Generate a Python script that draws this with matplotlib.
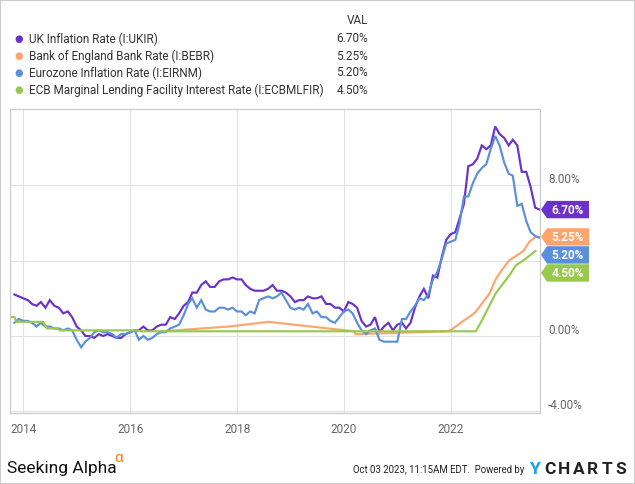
import matplotlib
matplotlib.use("Agg")
import matplotlib.pyplot as plt
from matplotlib.patches import Polygon, Rectangle
from matplotlib.transforms import Affine2D
import numpy as np
import pandas as pd

plt.rcParams['font.family'] = ['Roboto', 'DejaVu Sans']

# monthly series, Oct 2013 .. Aug 2023 (month end)
uk_cpi = [2.2, 2.1, 2.0,
          1.9, 1.7, 1.6, 1.8, 1.5, 1.9, 1.6, 1.5, 1.2, 1.3, 1.0, 0.5,
          0.3, 0.0, 0.0, -0.1, 0.1, 0.0, 0.1, 0.0, -0.1, -0.1, 0.1, 0.2,
          0.3, 0.3, 0.5, 0.3, 0.3, 0.5, 0.6, 0.6, 1.0, 0.9, 1.2, 1.6,
          1.8, 2.3, 2.3, 2.7, 2.9, 2.6, 2.6, 2.9, 3.0, 3.0, 3.1, 3.0,
          3.0, 2.7, 2.5, 2.4, 2.4, 2.4, 2.5, 2.7, 2.4, 2.4, 2.3, 2.1,
          1.8, 1.9, 1.9, 2.1, 2.0, 2.0, 2.1, 1.7, 1.7, 1.5, 1.5, 1.3,
          1.8, 1.7, 1.5, 0.8, 0.5, 0.6, 1.0, 0.2, 0.5, 0.7, 0.3, 0.6,
          0.7, 0.4, 0.7, 1.5, 2.1, 2.5, 2.0, 3.2, 3.1, 4.2, 5.1, 5.4,
          5.5, 6.2, 7.0, 9.0, 9.1, 9.4, 10.1, 9.9, 10.1, 11.1, 10.7, 10.5,
          10.1, 10.4, 10.1, 8.7, 8.7, 7.9, 6.8, 6.7]
ez_cpi = [0.7, 0.9, 0.8,
          0.8, 0.7, 0.5, 0.7, 0.5, 0.5, 0.4, 0.4, 0.3, 0.4, 0.3, -0.2,
          -0.6, -0.3, -0.1, 0.2, 0.3, 0.2, 0.2, 0.1, -0.1, 0.1, 0.1, 0.2,
          0.3, -0.2, 0.0, -0.2, -0.1, 0.1, 0.2, 0.2, 0.4, 0.5, 0.6, 1.1,
          1.7, 2.0, 1.5, 1.9, 1.4, 1.3, 1.3, 1.5, 1.5, 1.4, 1.5, 1.3,
          1.3, 1.1, 1.3, 1.2, 1.9, 2.0, 2.1, 2.0, 2.1, 2.3, 1.9, 1.5,
          1.4, 1.5, 1.4, 1.7, 1.2, 1.3, 1.0, 1.0, 0.8, 0.7, 1.0, 1.3,
          1.4, 1.2, 0.7, 0.3, 0.1, 0.3, 0.4, -0.2, -0.3, -0.3, -0.3, -0.3,
          0.9, 0.9, 1.3, 1.6, 2.0, 1.9, 2.2, 3.0, 3.4, 4.1, 4.9, 5.0,
          5.1, 5.9, 7.4, 7.4, 8.1, 8.6, 8.9, 9.1, 9.9, 10.6, 10.1, 9.2,
          8.6, 8.5, 6.9, 7.0, 6.1, 5.5, 5.3, 5.2]
monthly_dates = pd.date_range("2013-10-31", periods=len(uk_cpi), freq="ME")

# policy rates, points at change dates
boe_dates = ["2016-08-04", "2017-11-02", "2018-08-02", "2020-03-11", "2020-03-19",
             "2021-12-16", "2022-02-03", "2022-03-17", "2022-05-05", "2022-06-16",
             "2022-08-04", "2022-09-22", "2022-11-03", "2022-12-15", "2023-02-02",
             "2023-03-23", "2023-05-11", "2023-06-22", "2023-08-03", "2023-08-31"]
boe_rate = [0.25, 0.50, 0.75, 0.25, 0.10,
            0.25, 0.50, 0.75, 1.00, 1.25,
            1.75, 2.25, 3.00, 3.50, 4.00,
            4.25, 4.50, 5.00, 5.25, 5.25]
ecb_dates = ["2013-10-01", "2013-10-31", "2013-11-13", "2014-05-15", "2014-06-11",
             "2014-08-15", "2014-09-10", "2016-02-15", "2016-03-16", "2022-06-20",
             "2022-07-27", "2022-09-14", "2022-11-02", "2022-12-21", "2023-02-08",
             "2023-03-22", "2023-05-10", "2023-06-21", "2023-08-02"]
ecb_rate = [1.00, 1.00, 0.75, 0.75, 0.40,
            0.40, 0.30, 0.30, 0.25, 0.25,
            0.75, 1.50, 2.25, 2.75, 3.25,
            3.75, 4.00, 4.25, 4.50]

names = ["UK Inflation Rate (I:UKIR)", "Bank of England Bank Rate (I:BEBR)",
         "Eurozone Inflation Rate (I:EIRNM)", "ECB Marginal Lending Facility Interest Rate (I:ECBMLFIR)"]
last_vals = [6.70, 5.25, 5.20, 4.50]
colors = ["#6a32c9", "#ffa46c", "#5a8fdc", "#96c94e"]
y_grid = [-4, 0, 4, 8]
y_labels = [-4, 0, 8]   # the 4% label sits under the value tags
x_years = [2014, 2016, 2018, 2020, 2022]

W, H = 635, 484
fig = plt.figure(figsize=(W / 100, H / 100), dpi=100)
# pixel coords with origin at top-left
px = Affine2D().scale(1 / W, -1 / H).translate(0, 1) + fig.transFigure

ax_l, ax_r, ax_t, ax_b = 10, 540, 109, 413
ax = fig.add_axes([ax_l / W, 1 - ax_b / H, (ax_r - ax_l) / W, (ax_b - ax_t) / H])

series = [(monthly_dates, uk_cpi), (pd.to_datetime(boe_dates), boe_rate),
          (monthly_dates, ez_cpi), (pd.to_datetime(ecb_dates), ecb_rate)]
for (d, v), c in zip(series, colors):
    ax.plot(d, v, color=c, lw=1.55, solid_joinstyle='miter')

ax.set_xlim(pd.Timestamp("2013-10-01"), pd.Timestamp("2023-09-02"))
ax.set_ylim(-4.08, 12.03)
ax.set_xticks([pd.Timestamp(f"{y}-01-01") for y in x_years])
ax.set_xticklabels([str(y) for y in x_years])
ax.set_yticks(y_grid)
ax.set_yticklabels([])
ax.tick_params(length=0, colors="#666666", labelsize=8.5, pad=7)
ax.grid(True, color="#e2e2e2", lw=0.8)
ax.set_axisbelow(True)
for s in ax.spines.values():
    s.set_color("#cccccc")
    s.set_linewidth(0.9)

def data_to_px_y(v):
    return H - ax.transData.transform((0, v))[1]

for t in y_labels:
    fig.text(548, data_to_px_y(t) - 6, f"{t:.2f}%", transform=px, ha='left', va='center',
             fontsize=8.5, color="#666666")

# end-value tags, pushed down so they don't overlap
tag_h = 17.4
prev = None
order = np.argsort(last_vals)[::-1]
for i in order:
    yc = data_to_px_y(last_vals[i])
    if prev is not None and yc < prev + tag_h + 0.6:
        yc = prev + tag_h + 0.6
    prev = yc
    h2 = tag_h / 2
    poly = Polygon([(541, yc), (547, yc - h2), (589, yc - h2), (589, yc + h2), (547, yc + h2)],
                   closed=True, transform=px, facecolor=colors[i], edgecolor='none', zorder=5)
    fig.add_artist(poly)
    fig.text(568, yc + 0.5, f"{last_vals[i]:.2f}%", transform=px, ha='center', va='center',
             color='white', fontsize=8.5, fontweight='bold', zorder=6)

# legend block
fig.text(368, 20, "VAL", transform=px, ha='right', va='center', fontsize=8.5, color="#333333")
for k, (n, v, c) in enumerate(zip(names, last_vals, colors)):
    y = 39 + k * 17
    fig.text(19, y, "\u25cf", transform=px, ha='center', va='center', fontsize=7, color=c,
             family='DejaVu Sans')
    fig.text(29, y, n, transform=px, ha='left', va='center', fontsize=8.5, color="#333333")
    fig.text(368, y, f"{v:.2f}%", transform=px, ha='right', va='center', fontsize=8.5, color="#333333")

# footer
fig.text(7, 468, "Seeking Alpha", transform=px, ha='left', va='center', fontsize=12.5,
         color="#111111")
fig.text(114, 458, "\u03b1", transform=px, ha='left', va='center', fontsize=11, color="#ff7a00")
fig.text(353, 470, "Oct 03 2023, 11:15AM EDT.  Powered by", transform=px, ha='left', va='center',
         fontsize=6.9, color="#222222")
fig.text(535, 469, "Y", transform=px, ha='center', va='center', fontsize=12.5, fontweight='bold',
         color="#1aa0e6")
for j, ch in enumerate("CHARTS"):
    fig.text(550 + j * 14.2, 469, ch, transform=px, ha='center', va='center', fontsize=12.5,
             fontweight='bold', color="#222222")

fig.add_artist(Rectangle((0, 0), 1, 1, transform=fig.transFigure, fill=False,
                         edgecolor="#cccccc", lw=1.5))

fig.savefig("out.png", dpi=100)
